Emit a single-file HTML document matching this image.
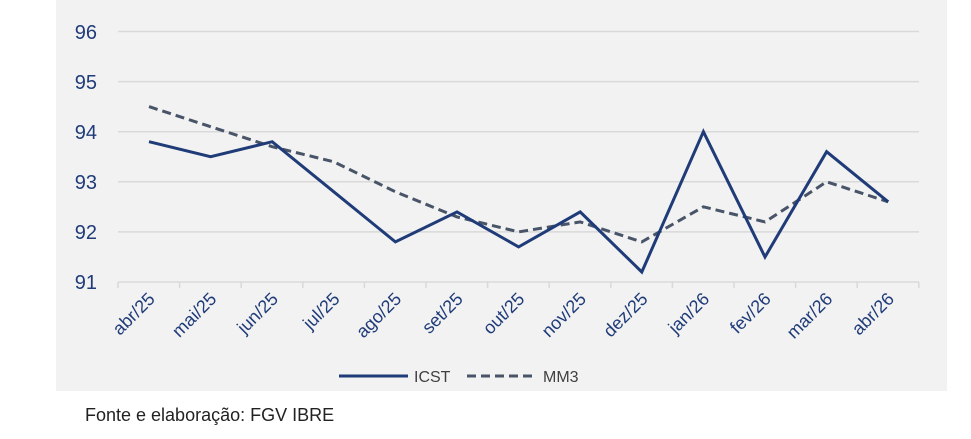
<!DOCTYPE html>
<html><head><meta charset="utf-8"><style>body{margin:0;background:#fff}svg{display:block}</style></head><body>
<svg width="971" height="439" viewBox="0 0 971 439" xmlns="http://www.w3.org/2000/svg" font-family="'Liberation Sans', sans-serif">
<rect x="56" y="0" width="891" height="391" fill="#f2f2f2"/>
<g stroke="#d9d9d9" stroke-width="1.5">
<line x1="118" y1="31.5" x2="919" y2="31.5"/><line x1="118" y1="81.6" x2="919" y2="81.6"/><line x1="118" y1="131.7" x2="919" y2="131.7"/><line x1="118" y1="181.8" x2="919" y2="181.8"/><line x1="118" y1="231.9" x2="919" y2="231.9"/><line x1="118" y1="282" x2="919" y2="282"/>
<line x1="118" y1="282" x2="118" y2="288"/><line x1="179.6" y1="282" x2="179.6" y2="288"/><line x1="241.2" y1="282" x2="241.2" y2="288"/><line x1="302.8" y1="282" x2="302.8" y2="288"/><line x1="364.4" y1="282" x2="364.4" y2="288"/><line x1="426" y1="282" x2="426" y2="288"/><line x1="487.6" y1="282" x2="487.6" y2="288"/><line x1="549.2" y1="282" x2="549.2" y2="288"/><line x1="610.8" y1="282" x2="610.8" y2="288"/><line x1="672.4" y1="282" x2="672.4" y2="288"/><line x1="734" y1="282" x2="734" y2="288"/><line x1="795.6" y1="282" x2="795.6" y2="288"/><line x1="857.2" y1="282" x2="857.2" y2="288"/><line x1="918.8" y1="282" x2="918.8" y2="288"/>
</g>
<g fill="#1f3b78" font-size="20" text-anchor="end">
<text x="97" y="39">96</text><text x="97" y="89">95</text><text x="97" y="139">94</text><text x="97" y="189">93</text><text x="97" y="239">92</text><text x="97" y="289">91</text>
</g>
<g fill="#1f3b78" font-size="18" text-anchor="end">
<text transform="translate(156,300) rotate(-45)">abr/25</text>
<text transform="translate(217.6,300) rotate(-45)">mai/25</text>
<text transform="translate(279.2,300) rotate(-45)">jun/25</text>
<text transform="translate(340.8,300) rotate(-45)">jul/25</text>
<text transform="translate(402.4,300) rotate(-45)">ago/25</text>
<text transform="translate(464,300) rotate(-45)">set/25</text>
<text transform="translate(525.6,300) rotate(-45)">out/25</text>
<text transform="translate(587.2,300) rotate(-45)">nov/25</text>
<text transform="translate(648.8,300) rotate(-45)">dez/25</text>
<text transform="translate(710.4,300) rotate(-45)">jan/26</text>
<text transform="translate(772,300) rotate(-45)">fev/26</text>
<text transform="translate(833.6,300) rotate(-45)">mar/26</text>
<text transform="translate(895.2,300) rotate(-45)">abr/26</text>
</g>
<polyline fill="none" stroke="#485468" stroke-width="3" stroke-dasharray="9,5" points="149,106.6 210.6,126.7 272.2,146.7 333.8,161.8 395.4,191.8 457,216.9 518.6,231.9 580.2,221.9 641.8,241.9 703.4,206.8 765,221.9 826.6,181.8 888.2,201.8"/>
<polyline fill="none" stroke="#1f3b78" stroke-width="3" stroke-linejoin="miter" points="149,141.7 210.6,156.75 272.2,141.7 333.8,191.8 395.4,241.9 457,211.9 518.6,246.9 580.2,211.9 641.8,272 703.4,131.7 765,257 826.6,151.7 888.2,201.8"/>
<line x1="339" y1="376" x2="408" y2="376" stroke="#1f3b78" stroke-width="3"/>
<text x="414" y="382" font-size="16" fill="#404040">ICST</text>
<line x1="467" y1="376" x2="537" y2="376" stroke="#485468" stroke-width="3" stroke-dasharray="9,5"/>
<text x="543" y="382" font-size="16" fill="#404040">MM3</text>
<text x="85" y="421" font-size="18" fill="#222">Fonte e elaboração: FGV IBRE</text>
</svg>
</body></html>
